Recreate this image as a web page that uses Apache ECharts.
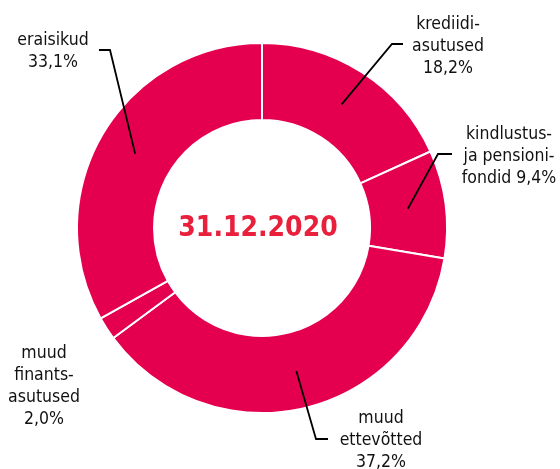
<!DOCTYPE html>
<html>
<head>
<meta charset="utf-8">
<script src="https://cdn.jsdelivr.net/npm/echarts@6/dist/echarts.min.js"></script>
<style>
  html, body { margin: 0; padding: 0; background: #fff; }
  #chart { width: 560px; height: 469px; }
</style>
</head>
<body>
<div id="chart"></div>
<script>
// shares, %, clockwise from the top
const names = [
  "krediidi-\nasutused",
  "kindlustus-\nja pensioni-\nfondid",
  "muud\nettevõtted",
  "muud\nfinants-\nasutused",
  "eraisikud"
];
const values = [18.2, 9.4, 37.2, 2.0, 33.1];
// value goes on its own line, except for the pension funds label
const valueOnNewLine = [true, false, true, true, true];
const centerLabel = "31.12.2020";

// label placement (text block centre) and leader line bends, in px
const labelPos = [[448, 46], [509, 156], [381, 440], [44, 386], [53, 51]];
const lineBend = [[392, 44], [438, 154], [316, 439], null, [110, 50]];
const lineEnd = [[403, 44], [452, 154], [328, 439], null, [99, 50]];

const ringColor = "#e5004f";
const font = "DejaVu Sans Condensed";

const labelText = (i) =>
  names[i] + (valueOnNewLine[i] ? "\n" : " ") + values[i].toFixed(1).replace(".", ",") + "%";

const option = {
  animation: false,
  graphic: [
    {
      type: "text",
      x: 258,
      y: 229,
      style: {
        text: centerLabel,
        fill: "#e8203c",
        font: "bold 28px '" + font + "'",
        textAlign: "center",
        textVerticalAlign: "middle",
      },
    },
  ],
  series: [
    {
      type: "pie",
      center: [262, 228],
      radius: [108, 185],
      startAngle: 90,
      silent: true,
      label: { show: false },
      labelLine: { show: false },
      itemStyle: { color: ringColor, borderColor: "#fff", borderWidth: 2 },
      data: values.map((v, i) => ({ name: names[i], value: v })),
    },
    {
      // invisible helper pie, its edge is where the leader lines start
      type: "pie",
      center: [262, 228],
      radius: [0, 147],
      startAngle: 90,
      silent: true,
      z: 5,
      avoidLabelOverlap: false,
      itemStyle: { color: "rgba(0,0,0,0)", borderWidth: 0 },
      emphasis: { disabled: true },
      label: {
        show: true,
        position: "outside",
        color: "#111",
        fontFamily: font,
        fontSize: 17.5,
        lineHeight: 22,
        align: "center",
        formatter: (p) => labelText(p.dataIndex),
      },
      labelLine: {
        show: true,
        length: 10,
        length2: 10,
        lineStyle: { color: "#000", width: 1.8 },
      },
      labelLayout: (params) => {
        const i = params.dataIndex;
        const out = {
          x: labelPos[i][0],
          y: labelPos[i][1],
          align: "center",
          verticalAlign: "middle",
        };
        if (lineBend[i] && params.labelLinePoints) {
          out.labelLinePoints = [params.labelLinePoints[0], lineBend[i], lineEnd[i]];
        }
        return out;
      },
      data: values.map((v, i) => ({
        name: names[i],
        value: v,
        labelLine: { show: lineBend[i] !== null },
      })),
    },
  ],
};

const myChart = echarts.init(document.getElementById("chart"));
myChart.setOption(option);
window.addEventListener("resize", () => {
  myChart.resize();
});
</script>
</body>
</html>
